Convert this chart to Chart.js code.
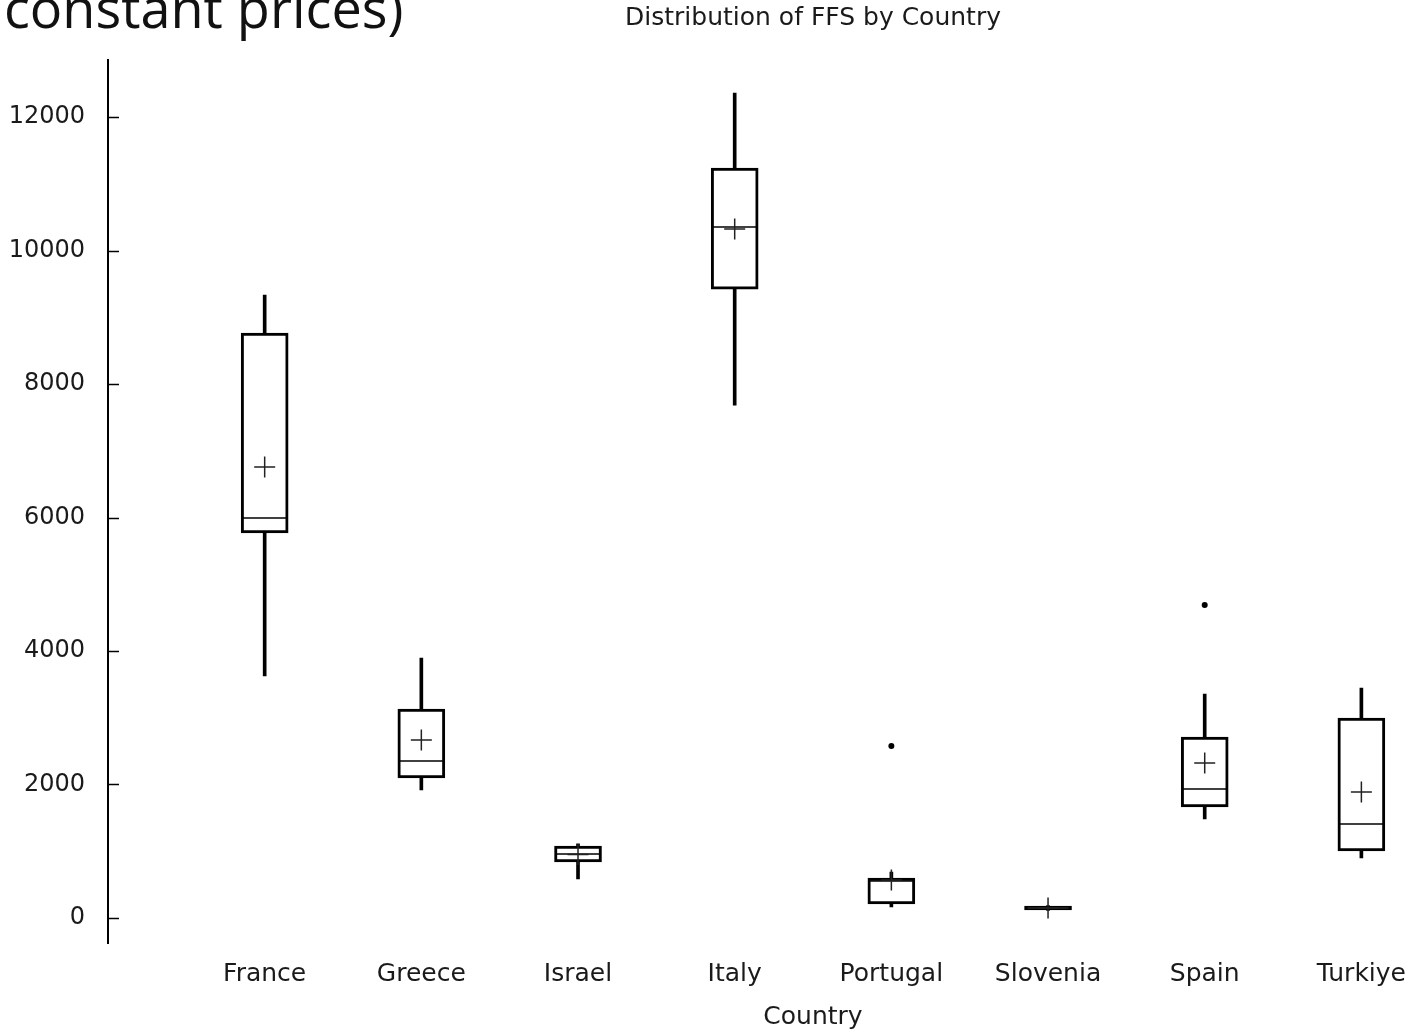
<!DOCTYPE html>
<html lang="en">
<head>
    <meta charset="UTF-8">
    <title>Distribution of FFS by Country</title>
    <script src="https://cdn.jsdelivr.net/npm/chart.js"></script>
    <style>
        body {
            margin: 0;
            padding: 0;
            background: #fff;
            overflow: hidden;
        }
        .page-title {
            position: absolute;
            left: 4px;
            top: -20px;
            font-family: "Open Sans", sans-serif;
            font-size: 54px;
            line-height: 1;
            color: #111;
            white-space: nowrap;
        }
        .chart-box {
            position: absolute;
            left: 0;
            top: 0;
            width: 1417px;
            height: 1032px;
        }
    </style>
</head>
<body>
    <div class="page-title">constant prices)</div>
    <div class="chart-box">
        <canvas id="boxChart"></canvas>
    </div>

    <script>
        const countries   = ['France', 'Greece', 'Israel', 'Italy', 'Portugal', 'Slovenia', 'Spain', 'Turkiye'];
        const whiskerLow  = [3625, 1918,  584,  7685, 165, 115, 1483,  899];
        const q1          = [5768, 2097,  839,  9423, 210, 120, 1663, 1004];
        const median      = [5993, 2352,  959, 10352, 554, 150, 1932, 1408];
        const q3          = [8764, 3131, 1079, 11236, 599, 180, 2711, 2996];
        const whiskerHigh = [9333, 3895, 1109, 12359, 689, 185, 3356, 3446];
        const mean        = [6757, 2667,  950, 10322, 569, 150, 2322, 1888];
        const outlierCountry = ['Portugal', 'Spain'];
        const outlierValue   = [2577, 4689];
        const yTicks = [0, 2000, 4000, 6000, 8000, 10000, 12000];

        const pos = countries.map((_, i) => i + 1);
        const textColor = '#1a1a1a';

        const extraText = {
            id: 'extraText',
            afterDraw(chart) {
                const ctx = chart.ctx;
                const y = chart.scales.y;
                const area = chart.chartArea;
                ctx.save();
                // inward tick marks on the y axis
                ctx.strokeStyle = '#000';
                ctx.lineWidth = 1.5;
                y.ticks.forEach(t => {
                    const py = Math.round(y.getPixelForValue(t.value)) + 0.5;
                    ctx.beginPath();
                    ctx.moveTo(area.left, py);
                    ctx.lineTo(area.left + 11, py);
                    ctx.stroke();
                });
                ctx.fillStyle = textColor;
                ctx.font = '25px "DejaVu Sans"';
                ctx.textAlign = 'center';
                ctx.textBaseline = 'middle';
                ctx.fillText('Distribution of FFS by Country', 813, 18);
                ctx.fillText('Country', 813, 1017);
                ctx.restore();
            }
        };

        new Chart(document.getElementById('boxChart'), {
            type: 'bar',
            data: {
                datasets: [
                    {
                        label: 'whisker',
                        data: pos.map((x, i) => ({ x: x, y: [whiskerLow[i], whiskerHigh[i]] })),
                        backgroundColor: '#000',
                        borderWidth: 0,
                        barThickness: 3,
                        grouped: false,
                        order: 5
                    },
                    {
                        label: 'box',
                        data: pos.map((x, i) => ({ x: x, y: [q1[i], q3[i]] })),
                        backgroundColor: '#fff',
                        borderColor: '#000',
                        borderWidth: 3,
                        borderSkipped: false,
                        barThickness: 47,
                        grouped: false,
                        order: 4
                    },
                    {
                        type: 'scatter',
                        label: 'median',
                        data: pos.map((x, i) => ({ x: x, y: median[i] })),
                        pointStyle: 'line',
                        radius: 22,
                        hoverRadius: 22,
                        borderColor: '#000',
                        borderWidth: 1.5,
                        order: 3
                    },
                    {
                        type: 'scatter',
                        label: 'mean',
                        data: pos.map((x, i) => ({ x: x, y: mean[i] })),
                        pointStyle: 'cross',
                        radius: 10.5,
                        hoverRadius: 10.5,
                        borderColor: '#222',
                        borderWidth: 1.5,
                        order: 2
                    },
                    {
                        type: 'scatter',
                        label: 'outlier',
                        data: outlierCountry.map((c, i) => ({ x: countries.indexOf(c) + 1, y: outlierValue[i] })),
                        pointStyle: 'circle',
                        radius: 3,
                        hoverRadius: 3,
                        backgroundColor: '#000',
                        borderColor: '#000',
                        borderWidth: 0,
                        order: 1
                    }
                ]
            },
            options: {
                responsive: true,
                maintainAspectRatio: false,
                animation: false,
                layout: { padding: { top: 60, left: 0, right: 0, bottom: 0 } },
                plugins: {
                    legend: { display: false },
                    tooltip: { enabled: false },
                    title: { display: false }
                },
                scales: {
                    x: {
                        type: 'linear',
                        offset: false,
                        min: 0,
                        max: 8.205,
                        grid: { display: false },
                        border: { display: false },
                        afterBuildTicks: scale => { scale.ticks = pos.map(v => ({ value: v })); },
                        afterFit: scale => { scale.height = 89; scale.paddingLeft = 0; scale.paddingRight = 0; },
                        ticks: {
                            padding: 8,
                            autoSkip: false,
                            maxRotation: 0,
                            color: textColor,
                            font: { family: 'DejaVu Sans', size: 25 },
                            callback: v => countries[v - 1] || ''
                        }
                    },
                    y: {
                        min: -375,
                        max: 12855,
                        grid: { display: false },
                        border: { display: true, color: '#000', width: 2 },
                        afterBuildTicks: scale => { scale.ticks = yTicks.map(v => ({ value: v })); },
                        afterFit: scale => { scale.width = 108; scale.paddingTop = 0; scale.paddingBottom = 0; },
                        ticks: {
                            padding: 15,
                            color: textColor,
                            font: { family: 'DejaVu Sans', size: 24 },
                            callback: v => String(v)
                        }
                    }
                }
            },
            plugins: [extraText]
        });
    </script>
</body>
</html>
